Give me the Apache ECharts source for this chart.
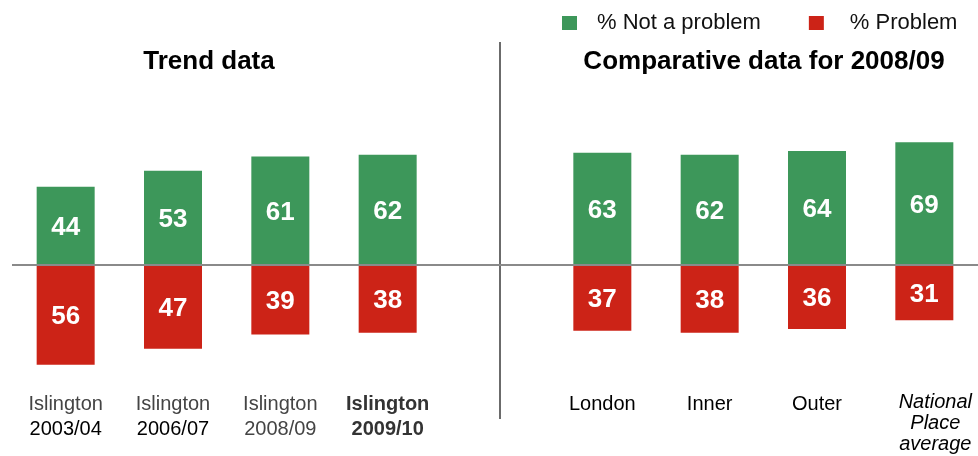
<!DOCTYPE html>
<html>
<head>
<meta charset="utf-8">
<script src="https://cdn.jsdelivr.net/npm/echarts@6/dist/echarts.min.js"></script>
<style>
  html, body { margin: 0; padding: 0; background: #ffffff; }
  #chart { width: 978px; height: 456px; }
</style>
</head>
<body>
<div id="chart"></div>
<script>
// Survey results: share of residents saying it is / is not a problem
const categories = [
  'Islington\n2003/04', 'Islington\n2006/07', 'Islington\n2008/09', 'Islington\n2009/10',
  '',
  'London', 'Inner', 'Outer', 'National\nPlace\naverage'
];
const notProblem = [44, 53, 61, 62, null, 63, 62, 64, 69];
const problem    = [56, 47, 39, 38, null, 37, 38, 36, 31];
const seriesNames = ['% Not a problem', '% Problem'];
const panelTitles = ['Trend data', 'Comparative data for 2008/09'];

const FONT = '"Liberation Sans", Arial, sans-serif';
const GREEN = '#3d975a';
const RED = '#cc2317';

// rich-text style key per category label (line1, line2...)
const labelStyles = [
  ['grey', 'black'], ['grey', 'black'], ['grey', 'grey'], ['bold', 'bold'],
  [], ['black'], ['black'], ['black'], ['ital', 'ital', 'ital']
];

const chart = echarts.init(document.getElementById('chart'));

const valueLabel = {
  show: true,
  position: 'inside',
  color: '#ffffff',
  fontFamily: FONT,
  fontWeight: 'bold',
  fontSize: 26,
  offset: [0, 2],
  formatter: p => Math.abs(p.value)
};

chart.setOption({
  animation: false,
  title: [
    { text: panelTitles[0], left: 209, top: 49, textAlign: 'center', padding: 0,
      textStyle: { fontFamily: FONT, fontWeight: 'bold', fontSize: 26, color: '#000' } },
    { text: panelTitles[1], left: 764, top: 49, textAlign: 'center', padding: 0,
      textStyle: { fontFamily: FONT, fontWeight: 'bold', fontSize: 26, color: '#000' } }
  ],
  legend: {
    left: 562,
    top: 12,
    padding: 0,
    itemWidth: 15,
    itemHeight: 14,
    itemGap: 48,
    icon: 'rect',
    textStyle: { fontFamily: FONT, fontSize: 22, color: '#111' },
    data: [
      { name: seriesNames[0], textStyle: { padding: [0, 0, 0, 15] } },
      { name: seriesNames[1], textStyle: { padding: [0, 0, 0, 21] } }
    ]
  },
  grid: { left: 12, right: 0, top: 122.6, height: 249.2, containLabel: false },
  xAxis: {
    type: 'category',
    data: categories,
    axisLine: { show: false },
    axisTick: { show: false },
    axisLabel: {
      interval: 0,
      margin: 20,
      formatter: (value, idx) => {
        const lines = value.split('\n');
        return lines.map((l, i) => '{' + labelStyles[idx][i] + '|' + l + '}').join('\n');
      },
      rich: {
        grey:  { fontFamily: FONT, fontSize: 20, color: '#444444', lineHeight: 25 },
        black: { fontFamily: FONT, fontSize: 20, color: '#000000', lineHeight: 25 },
        bold:  { fontFamily: FONT, fontSize: 20, color: '#333333', fontWeight: 'bold', lineHeight: 25 },
        ital:  { fontFamily: FONT, fontSize: 20, color: '#000000', fontStyle: 'italic', lineHeight: 21, padding: [0, 0, 0, 22] }
      }
    }
  },
  yAxis: {
    type: 'value',
    min: -60,
    max: 80,
    show: false,
    splitLine: { show: false }
  },
  series: [
    {
      name: seriesNames[0],
      type: 'bar',
      barWidth: 58,
      barGap: '-100%',
      itemStyle: { color: GREEN },
      label: valueLabel,
      data: notProblem.map(v => v == null ? '-' : v),
      markLine: {
        silent: true,
        symbol: 'none',
        z: 10,
        label: { show: false },
        lineStyle: { color: '#8a8a8a', width: 2, type: 'solid' },
        data: [{ yAxis: 0 }]
      }
    },
    {
      name: seriesNames[1],
      type: 'bar',
      barWidth: 58,
      itemStyle: { color: RED },
      label: valueLabel,
      data: problem.map(v => v == null ? '-' : -v)
    }
  ],
  graphic: [
    {
      type: 'line',
      shape: { x1: 500, y1: 42, x2: 500, y2: 419 },
      style: { stroke: '#3a3a3a', lineWidth: 1.5 },
      z: 5
    }
  ]
});
</script>
</body>
</html>
